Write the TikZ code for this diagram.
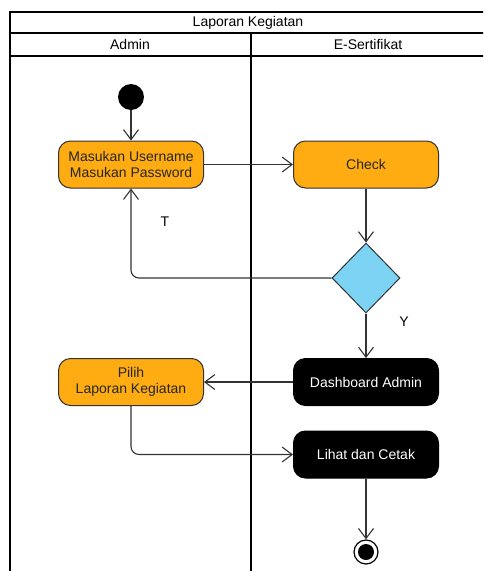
\documentclass[tikz,border=0pt]{standalone}
\usepackage{fontspec}
\setmainfont{Liberation Sans}
\usetikzlibrary{arrows.meta,shapes.geometric}
\definecolor{actorange}{HTML}{FFAB12}
\definecolor{decblue}{HTML}{7DD3F4}
\definecolor{linegray}{HTML}{333333}

\tikzset{
  act/.style={draw=linegray, line width=1pt, rounded corners=12, fill=actorange,
    minimum width=145, minimum height=47, align=center, inner sep=0,
    text=black!85, font=\fontsize{14}{16}\selectfont},
  sysact/.style={act, fill=black, draw=black, text=white},
  flow/.style={draw=linegray, line width=1.1pt, -{Straight Barb[length=10pt,width=15pt]}},
  lane/.style={line width=2pt}
}

\begin{document}
\begin{tikzpicture}[x=1pt, y=-1pt, font=\fontsize{14}{16}\selectfont]
  \useasboundingbox (0,0) rectangle (483,571);
  \clip (0,0) rectangle (483,571);

  % Swimlanes
  \draw[lane] (10,12) rectangle (486,590);
  \draw[lane] (10,33) -- (486,33);
  \draw[lane] (10,56) -- (486,56);
  \draw[lane] (251,33) -- (251,590);
  \node (title) at (248,22.5) {Laporan Kegiatan};
  \node (admin) at (130,44.5) {Admin};
  \node (esert) at (368,44.5) {E-Sertifikat};

  % Nodes
  \node[circle, fill=black, minimum size=26, inner sep=0] (start) at (131,97) {};
  \node[act] (login) at (131,164.5) {Masukan Username\\Masukan Password};
  \node[act] (check) at (366,164.5) {Check};
  \node[diamond, draw=linegray, line width=1pt, fill=decblue, minimum width=68, minimum height=70, inner sep=0] (dec) at (366,278) {};
  \node[sysact] (dash) at (366,382) {Dashboard Admin};
  \node[act] (pilih) at (131,382) {Pilih\\Laporan Kegiatan};
  \node[sysact] (lihat) at (366,454.5) {Lihat dan Cetak};
  \node[circle, draw=black, line width=1.2pt, fill=white, minimum size=24, inner sep=0] (fin) at (366,552) {};
  \node[circle, fill=black, minimum size=16, inner sep=0] (fincore) at (fin) {};

  % Labels
  \node (lblT) at (165,222) {T};
  \node (lblY) at (404,322) {Y};

  % Flows
  \draw[flow] (start) -- (login);
  \draw[flow] (login) -- (check);
  \draw[flow] (check) -- (dec);
  \draw[flow, rounded corners=8] (dec.west) -| (login.south);
  \draw[flow] (dec) -- (dash);
  \draw[flow] (dash) -- (pilih);
  \draw[flow, rounded corners=8] (pilih.south) |- (lihat.west);
  \draw[flow] (lihat) -- (fin);
\end{tikzpicture}
\end{document}
